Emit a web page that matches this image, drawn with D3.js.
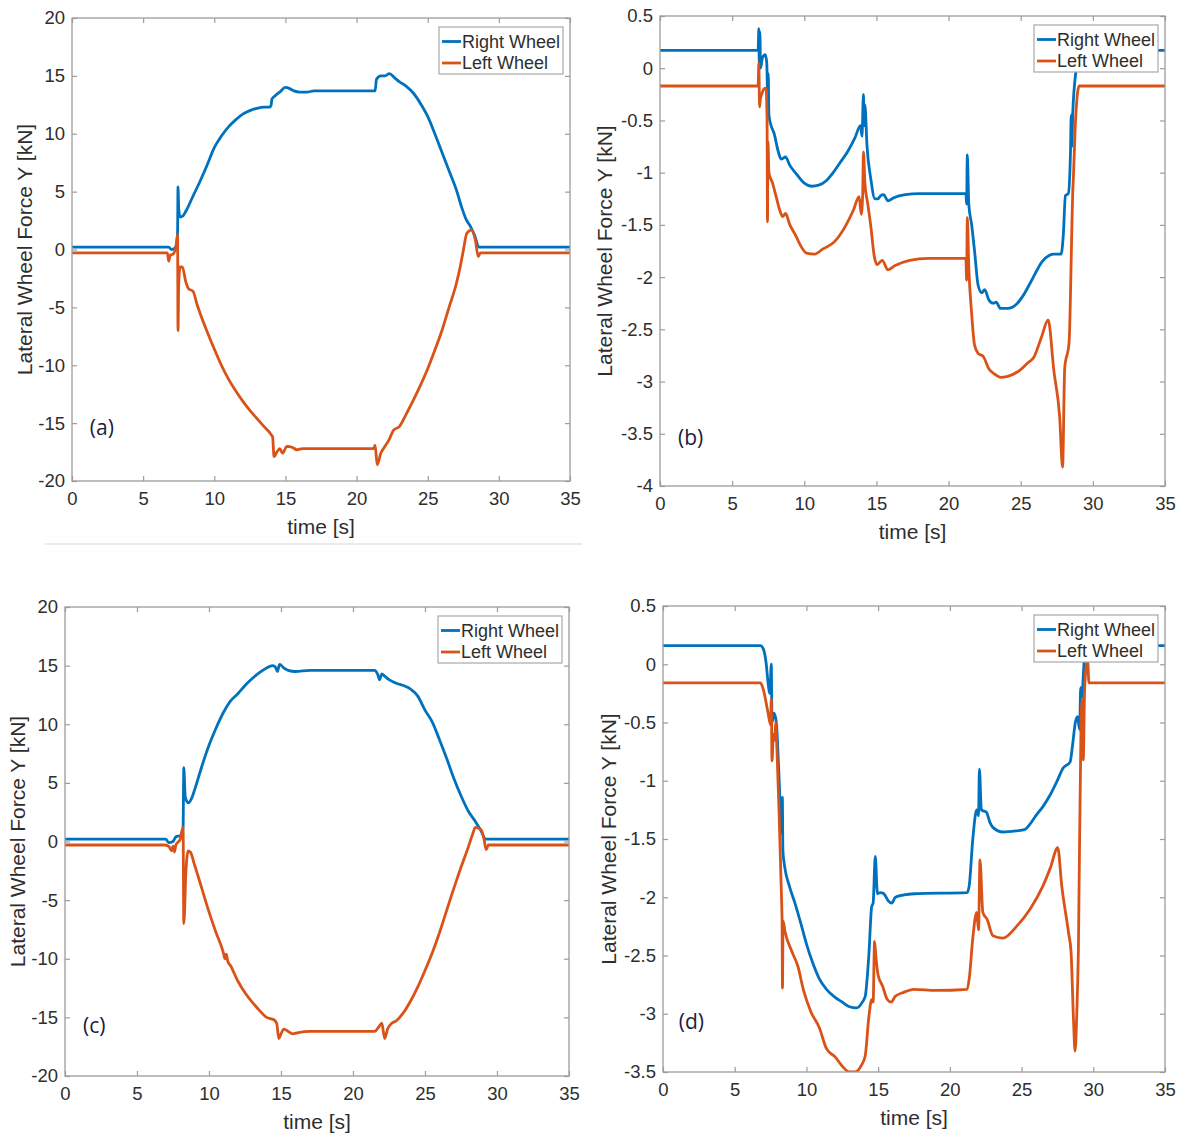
<!DOCTYPE html>
<html><head><meta charset="utf-8">
<script src="https://cdn.jsdelivr.net/npm/d3@7"></script>
<style>
body{margin:0;background:#fff}
svg{display:block}
text{font-family:"Liberation Sans",Arial,Helvetica,sans-serif}
</style>
</head><body>
<svg id="chart" width="1182" height="1135"></svg>
<script>
// ---------------- data ----------------
const seriesNames = ["Right Wheel", "Left Wheel"];
const seriesColors = ["#0072BD", "#D95319"];
const xTicks = [0, 5, 10, 15, 20, 25, 30, 35];
const yTicksLarge = [20, 15, 10, 5, 0, -5, -10, -15, -20];
const yTicksB = [0.5, 0, -0.5, -1, -1.5, -2, -2.5, -3, -3.5, -4];
const yTicksD = [0.5, 0, -0.5, -1, -1.5, -2, -2.5, -3, -3.5];
const panelLabels = ["(a)", "(b)", "(c)", "(d)"];
const xTitle = "time [s]";
const yTitle = "Lateral Wheel Force Y [kN]";

// panel (a)  [time s, force kN]
const aRight = [[0,0.2],[6.8,0.2],[7.0,0.0],[7.2,0.1],[7.35,0.4],[7.42,1.5],[7.45,5.4],[7.5,3.5],[7.6,2.8],[7.8,2.9],[8.0,3.3],[8.5,4.6],[9.0,5.9],[9.5,7.3],[10,8.8],[10.5,9.8],[11,10.6],[11.5,11.2],[12,11.7],[12.5,12.0],[13,12.2],[13.5,12.3],[13.9,12.3],[14.0,12.5],[14.05,13.0],[14.3,13.3],[14.6,13.6],[15.0,14.0],[15.3,13.9],[15.6,13.7],[16,13.6],[16.5,13.6],[17,13.7],[18,13.7],[21.3,13.7],[21.4,14.7],[21.7,15.0],[22.0,15.0],[22.3,15.2],[22.7,14.8],[23,14.5],[23.5,14.1],[24,13.5],[24.5,12.6],[25,11.5],[25.5,10.0],[26,8.4],[26.5,6.8],[27,5.2],[27.4,3.6],[27.7,2.6],[28.0,2.0],[28.3,1.2],[28.6,0.2],[35,0.2]];
const aLeft = [[0,-0.3],[6.7,-0.3],[6.8,-1.0],[6.9,-0.5],[7.1,-0.4],[7.3,0.2],[7.42,1.3],[7.45,-7.0],[7.5,-3.0],[7.6,-1.5],[7.75,-1.5],[8.0,-2.8],[8.2,-3.4],[8.5,-3.6],[8.8,-4.8],[9.0,-5.5],[9.5,-7.1],[10,-8.6],[10.5,-10.0],[11,-11.2],[11.5,-12.2],[12,-13.1],[12.5,-13.9],[13,-14.6],[13.5,-15.3],[14.0,-16.0],[14.1,-16.2],[14.2,-17.9],[14.4,-17.5],[14.6,-17.2],[14.8,-17.6],[15.1,-17.0],[15.5,-17.1],[15.8,-17.3],[16.2,-17.2],[17,-17.2],[21.2,-17.2],[21.3,-16.9],[21.45,-18.6],[21.7,-17.6],[22,-17.0],[22.3,-16.4],[22.6,-15.6],[23,-15.3],[23.5,-14.2],[24,-13.0],[24.5,-11.7],[25,-10.3],[25.5,-8.7],[26,-7.0],[26.5,-5.0],[27,-3.0],[27.3,-1.4],[27.5,-0.1],[27.75,1.4],[28.1,1.7],[28.35,0.8],[28.55,-0.6],[28.7,-0.3],[35,-0.3]];

// panel (b)
const bRight = [[0,0.17],[6.8,0.17],[6.85,0.38],[6.88,0.05],[6.92,0.35],[6.97,0.0],[7.1,0.1],[7.3,0.13],[7.4,0.05],[7.45,-0.2],[7.5,-0.05],[7.55,-0.45],[7.7,-0.55],[7.9,-0.62],[8.2,-0.8],[8.4,-0.87],[8.7,-0.85],[9.0,-0.93],[9.5,-1.02],[10.0,-1.1],[10.5,-1.13],[11.0,-1.12],[11.5,-1.08],[12.0,-1.0],[12.5,-0.9],[13.0,-0.8],[13.5,-0.67],[13.9,-0.55],[14.0,-0.65],[14.1,-0.25],[14.15,-0.55],[14.2,-0.35],[14.35,-0.75],[14.6,-1.05],[14.9,-1.25],[15.1,-1.25],[15.3,-1.22],[15.5,-1.21],[15.8,-1.27],[16.2,-1.24],[17,-1.21],[18,-1.2],[21.2,-1.2],[21.25,-1.3],[21.3,-0.83],[21.4,-1.3],[21.6,-1.5],[21.8,-1.75],[22.05,-2.08],[22.3,-2.15],[22.5,-2.12],[22.8,-2.22],[23.1,-2.25],[23.3,-2.24],[23.6,-2.3],[24.1,-2.3],[24.7,-2.26],[25.2,-2.17],[25.8,-2.02],[26.5,-1.85],[27.0,-1.79],[27.3,-1.78],[27.8,-1.78],[27.95,-1.6],[28.1,-1.22],[28.3,-1.2],[28.45,-0.8],[28.5,-0.45],[28.55,-0.75],[28.6,-0.45],[28.85,0.0],[29.0,0.17],[35,0.17]];
const bLeft = [[0,-0.17],[6.8,-0.17],[6.85,0.05],[6.9,-0.37],[6.95,-0.3],[7.05,-0.25],[7.2,-0.2],[7.35,-0.19],[7.42,-0.5],[7.45,-1.47],[7.48,-0.7],[7.55,-1.0],[7.8,-1.1],[8.05,-1.23],[8.3,-1.36],[8.5,-1.42],[8.7,-1.39],[9.0,-1.5],[9.4,-1.6],[9.75,-1.7],[10.15,-1.77],[10.7,-1.78],[11.3,-1.73],[12.1,-1.66],[12.9,-1.5],[13.4,-1.36],[13.8,-1.23],[13.95,-1.4],[14.05,-1.2],[14.1,-0.8],[14.2,-1.1],[14.4,-1.3],[14.6,-1.5],[14.85,-1.8],[15.05,-1.88],[15.4,-1.84],[15.8,-1.93],[16.3,-1.89],[17.3,-1.84],[18.6,-1.82],[21.2,-1.82],[21.25,-2.03],[21.3,-1.43],[21.4,-1.9],[21.6,-2.35],[21.8,-2.65],[22.05,-2.73],[22.4,-2.76],[22.8,-2.88],[23.2,-2.93],[23.6,-2.96],[24.1,-2.95],[24.95,-2.89],[25.5,-2.82],[25.9,-2.77],[26.45,-2.57],[26.9,-2.41],[27.3,-2.9],[27.7,-3.34],[27.9,-3.82],[28.05,-2.87],[28.35,-2.63],[28.55,-1.5],[28.6,-1.21],[28.65,-1.05],[28.8,-0.5],[29.05,-0.17],[35,-0.17]];

// panel (c)
const cRight = [[0,0.2],[7.0,0.2],[7.2,-0.1],[7.5,0.0],[7.7,0.4],[8.0,0.5],[8.2,1.2],[8.25,6.3],[8.35,3.8],[8.55,3.3],[8.8,3.7],[9.0,4.4],[9.5,6.4],[10,8.2],[10.5,9.7],[11,11.0],[11.5,12.0],[12,12.6],[12.5,13.3],[13,13.9],[13.5,14.4],[14,14.8],[14.4,15.0],[14.6,14.9],[14.75,14.5],[14.9,15.1],[15.2,14.8],[15.5,14.6],[16,14.5],[17,14.6],[21.5,14.6],[21.7,14.3],[21.85,13.8],[22.0,14.3],[22.2,14.1],[22.5,13.8],[23,13.5],[23.5,13.3],[24,13.0],[24.5,12.4],[25,11.2],[25.5,10.2],[26,8.7],[26.5,7.1],[27,5.4],[27.5,3.9],[28,2.6],[28.5,1.7],[28.9,0.9],[29.2,0.2],[35,0.2]];
const cLeft = [[0,-0.3],[6.9,-0.3],[7.2,-0.4],[7.4,-0.8],[7.5,-0.4],[7.6,-0.9],[7.7,-0.3],[8.0,0.2],[8.2,1.2],[8.25,-7.0],[8.4,-2.5],[8.55,-0.8],[8.7,-0.9],[9.0,-2.0],[9.5,-4.0],[10,-6.0],[10.5,-7.8],[11.0,-9.5],[11.1,-10.0],[11.2,-9.6],[11.3,-10.2],[11.5,-10.6],[12,-11.9],[12.5,-12.9],[13,-13.7],[13.5,-14.4],[14,-15.0],[14.5,-15.2],[14.7,-15.5],[14.85,-16.8],[15.0,-16.4],[15.2,-16.0],[15.5,-16.2],[15.8,-16.4],[16.2,-16.3],[17,-16.2],[21.5,-16.2],[21.8,-15.8],[22.0,-15.5],[22.2,-16.8],[22.4,-16.0],[22.7,-15.5],[23.0,-15.3],[23.5,-14.6],[24,-13.6],[24.5,-12.4],[25,-11.0],[25.5,-9.5],[26,-7.8],[26.5,-5.9],[27,-4.0],[27.5,-2.2],[28,-0.5],[28.3,0.6],[28.5,1.2],[28.9,1.0],[29.1,0.2],[29.25,-0.7],[29.4,-0.3],[35,-0.3]];

// panel (d)
const dRight = [[0,0.16],[6.8,0.16],[7.0,0.13],[7.2,0.0],[7.3,-0.13],[7.45,-0.25],[7.55,0.0],[7.6,-0.5],[7.75,-0.42],[7.9,-0.5],[8.1,-1.0],[8.2,-1.3],[8.28,-1.45],[8.32,-1.14],[8.36,-1.6],[8.5,-1.75],[8.8,-1.9],[9.2,-2.05],[9.6,-2.22],[10.0,-2.4],[10.4,-2.55],[10.9,-2.7],[11.4,-2.79],[12.0,-2.86],[12.5,-2.9],[13.0,-2.94],[13.5,-2.95],[13.9,-2.9],[14.1,-2.85],[14.35,-2.5],[14.55,-2.08],[14.65,-2.05],[14.8,-1.65],[14.95,-1.97],[15.15,-1.96],[15.4,-1.97],[15.7,-2.03],[15.95,-2.05],[16.2,-2.0],[16.8,-1.98],[17.5,-1.97],[21.2,-1.96],[21.35,-1.9],[21.6,-1.5],[21.87,-1.25],[22.0,-1.3],[22.06,-0.9],[22.2,-1.25],[22.55,-1.27],[22.8,-1.36],[23.0,-1.4],[23.7,-1.44],[24.65,-1.43],[25.2,-1.42],[25.6,-1.37],[26.0,-1.3],[26.5,-1.22],[27.0,-1.12],[27.45,-1.01],[27.9,-0.89],[28.38,-0.84],[28.55,-0.7],[28.75,-0.5],[28.9,-0.45],[29.05,-0.56],[29.12,-0.2],[29.2,-0.28],[29.35,0.0],[29.5,0.16],[35,0.16]];
const dLeft = [[0,-0.16],[6.8,-0.16],[7.0,-0.22],[7.3,-0.4],[7.5,-0.52],[7.55,-0.3],[7.6,-0.83],[7.7,-0.6],[7.8,-0.65],[7.85,-0.5],[7.95,-0.75],[8.1,-1.3],[8.25,-1.95],[8.3,-2.2],[8.33,-2.78],[8.37,-2.2],[8.5,-2.29],[9.0,-2.47],[9.4,-2.59],[9.8,-2.8],[10.3,-2.98],[10.9,-3.12],[11.4,-3.3],[12.0,-3.37],[12.5,-3.45],[13.0,-3.5],[13.4,-3.5],[13.8,-3.45],[14.1,-3.36],[14.35,-3.03],[14.55,-2.88],[14.65,-2.9],[14.75,-2.38],[14.85,-2.52],[15.0,-2.67],[15.3,-2.76],[15.65,-2.88],[15.9,-2.9],[16.2,-2.85],[16.7,-2.82],[17.5,-2.79],[19,-2.8],[21.2,-2.79],[21.35,-2.7],[21.6,-2.35],[21.87,-2.13],[22.0,-2.28],[22.1,-1.68],[22.3,-2.13],[22.6,-2.19],[23.0,-2.33],[23.7,-2.35],[24.65,-2.25],[25.6,-2.1],[26.5,-1.9],[27.0,-1.75],[27.52,-1.575],[27.8,-1.9],[28.27,-2.3],[28.45,-2.47],[28.62,-3.05],[28.73,-3.32],[28.85,-3.0],[28.96,-2.47],[29.15,-0.47],[29.25,-0.3],[29.3,-0.82],[29.4,-0.2],[29.6,0.04],[29.7,-0.16],[35,-0.16]];

// ---------------- layout ----------------
const panels = [
  {left:72,  right:570,  top:18,  bottom:481,  yDomain:[-20,20],  yTicks:yTicksLarge, data:[aRight,aLeft], label:panelLabels[0], labelAt:[1.25,-15.4], yTitleOff:47},
  {left:660, right:1165, top:16,  bottom:486,  yDomain:[-4,0.5],  yTicks:yTicksB,     data:[bRight,bLeft], label:panelLabels[1], labelAt:[1.25,-3.54], yTitleOff:55},
  {left:65,  right:569,  top:607, bottom:1076, yDomain:[-20,20],  yTicks:yTicksLarge, data:[cRight,cLeft], label:panelLabels[2], labelAt:[1.25,-15.7], yTitleOff:47},
  {left:663, right:1165, top:606, bottom:1072, yDomain:[-3.5,0.5],yTicks:yTicksD,     data:[dRight,dLeft], label:panelLabels[3], labelAt:[1.1,-3.07],  yTitleOff:54}
];

const svg = d3.select("#chart");
const AXIS = "#9c9c9c", TXT = "#2e2e2e";

// faint separator line under the top-left panel
svg.append("line").attr("x1",45).attr("x2",582).attr("y1",544).attr("y2",544)
  .attr("stroke","#e4e4e4").attr("stroke-width",1.5);

panels.forEach((p, i) => {
  const x = d3.scaleLinear().domain([0,35]).range([p.left, p.right]);
  const y = d3.scaleLinear().domain(p.yDomain).range([p.bottom, p.top]);
  const g = svg.append("g");
  const fmt = d => String(d);

  const styleAxis = (sel) => {
    sel.select(".domain").remove();
    sel.selectAll(".tick line").attr("stroke", AXIS).attr("stroke-width",1.2);
    sel.selectAll(".tick text").attr("fill", TXT).style("font-size","18.5px")
      .style("font-family",'"Liberation Sans",Arial,sans-serif');
  };

  g.append("g").attr("transform",`translate(0,${p.bottom})`)
    .call(d3.axisBottom(x).tickValues(xTicks).tickFormat(fmt).tickSizeInner(-5).tickSizeOuter(0).tickPadding(11))
    .call(styleAxis);
  g.append("g").attr("transform",`translate(0,${p.top})`)
    .call(d3.axisTop(x).tickValues(xTicks).tickFormat(()=> "").tickSizeInner(-5).tickSizeOuter(0))
    .call(styleAxis);
  g.append("g").attr("transform",`translate(${p.left},0)`)
    .call(d3.axisLeft(y).tickValues(p.yTicks).tickFormat(fmt).tickSizeInner(-5).tickSizeOuter(0).tickPadding(7))
    .call(styleAxis);
  g.append("g").attr("transform",`translate(${p.right},0)`)
    .call(d3.axisRight(y).tickValues(p.yTicks).tickFormat(()=> "").tickSizeInner(-5).tickSizeOuter(0))
    .call(styleAxis);

  // clip
  const cid = "clip" + i;
  svg.append("clipPath").attr("id", cid).append("rect")
    .attr("x", p.left).attr("y", p.top).attr("width", p.right - p.left).attr("height", p.bottom - p.top);

  const line = d3.line().curve(d3.curveMonotoneX).x(d => x(d[0])).y(d => y(d[1]));
  const lg = g.append("g").attr("clip-path", `url(#${cid})`);
  p.data.forEach((s, k) => {
    lg.append("path").datum(s).attr("d", line).attr("fill","none")
      .attr("stroke", seriesColors[k]).attr("stroke-width", 2.8)
      .attr("stroke-linejoin","round").attr("stroke-linecap","round");
  });

  // box
  g.append("rect").attr("x", p.left).attr("y", p.top)
    .attr("width", p.right - p.left).attr("height", p.bottom - p.top)
    .attr("fill","none").attr("stroke", AXIS).attr("stroke-width",1.3);

  // axis titles
  g.append("text").attr("x", (p.left + p.right)/2).attr("y", p.bottom + 46).attr("dy","0.35em")
    .attr("text-anchor","middle").attr("fill", TXT).style("font-size","21px").text(xTitle);
  g.append("text").attr("transform", `translate(${p.left - p.yTitleOff},${(p.top + p.bottom)/2}) rotate(-90)`)
    .attr("dy","0.35em").attr("text-anchor","middle").attr("fill", TXT).style("font-size","21px").text(yTitle);

  // panel label
  g.append("text").attr("x", x(p.labelAt[0])).attr("y", y(p.labelAt[1])).attr("dy","0.35em")
    .attr("fill","#1c1c3c").style("font-family",'"Open Sans",Lato,sans-serif').style("font-size","21px")
    .text(p.label);

  // legend
  const lw = 124, lh = 47;
  const lx = p.right - 7 - lw, ly = p.top + 9;
  const leg = g.append("g").attr("transform",`translate(${lx},${ly})`);
  leg.append("rect").attr("width", lw).attr("height", lh).attr("fill","#fff")
    .attr("stroke","#a8a8a8").attr("stroke-width",1.2);
  seriesNames.forEach((n, k) => {
    const yy = 14.5 + k * 21.5;
    leg.append("line").attr("x1",3).attr("x2",22).attr("y1",yy).attr("y2",yy)
      .attr("stroke", seriesColors[k]).attr("stroke-width",2.8);
    leg.append("text").attr("x",23).attr("y",yy).attr("dy","0.35em").attr("fill", TXT)
      .style("font-size","18px").text(n);
  });
});
</script>
</body></html>
